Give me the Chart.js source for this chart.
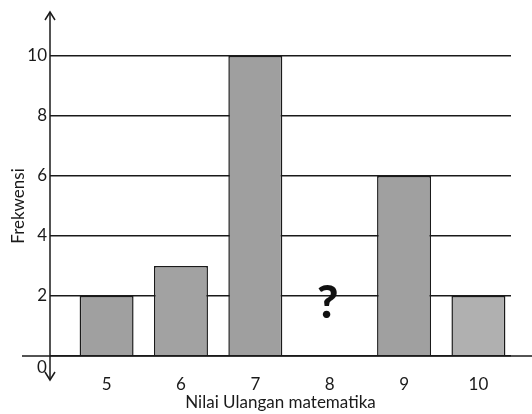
<!DOCTYPE html>
<html>
<head>
<meta charset="utf-8">
<script src="https://cdn.jsdelivr.net/npm/chart.js@4/dist/chart.umd.min.js"></script>
<style>
  html, body { margin: 0; padding: 0; background: #fff; }
  #wrap { width: 532px; height: 414px; }
</style>
</head>
<body>
<div id="wrap"><canvas id="nilaiChart" width="532" height="414"></canvas></div>
<script>
// Data (value for 8 is unknown, shown as "?")
const nilai = [5, 6, 7, 8, 9, 10];
const frekwensi = [2, 3, 10, null, 6, 2];
const barColors = ['#a0a0a0', '#a2a2a2', '#9f9f9f', '#a0a0a0', '#a0a0a0', '#b0b0b0'];
const unknownNilai = 8;

const FONT = 'Lato, "Open Sans", sans-serif';

// Axis lines with arrows, the long baseline, the "0" label and the "?"
const decorPlugin = {
  id: 'decor',
  afterDraw(chart) {
    const { ctx, scales: { x, y } } = chart;
    const ax = chart.chartArea.left;
    const y0 = y.getPixelForValue(0);
    ctx.save();
    ctx.strokeStyle = '#1a1a1a';
    ctx.lineWidth = 1.5;
    // vertical axis
    ctx.beginPath();
    ctx.moveTo(ax, 12);
    ctx.lineTo(ax, 380);
    ctx.stroke();
    // arrow heads
    ctx.beginPath();
    ctx.moveTo(ax - 5, 20); ctx.lineTo(ax, 12); ctx.lineTo(ax + 5, 20);
    ctx.moveTo(ax - 5, 372); ctx.lineTo(ax, 380); ctx.lineTo(ax + 5, 372);
    ctx.stroke();
    // baseline
    ctx.beginPath();
    ctx.moveTo(22, y0);
    ctx.lineTo(532, y0);
    ctx.stroke();
    // zero label
    ctx.fillStyle = '#1a1a1a';
    ctx.font = '17px ' + FONT;
    ctx.textAlign = 'center';
    ctx.textBaseline = 'middle';
    ctx.fillText('0', 42, y0 + 12);
    // question mark for the unknown value
    ctx.fillStyle = '#111';
    ctx.font = '900 46px ' + FONT;
    ctx.fillText('?', x.getPixelForValue(unknownNilai) - 2, y.getPixelForValue(1.75));
    ctx.restore();
  }
};

const ctx = document.getElementById('nilaiChart').getContext('2d');
new Chart(ctx, {
  type: 'bar',
  data: {
    datasets: [{
      label: 'Frekwensi',
      data: nilai.map((v, i) => ({ x: v, y: frekwensi[i] })),
      backgroundColor: barColors,
      borderColor: '#1a1a1a',
      borderWidth: 1.5,
      barPercentage: 0.726,
      categoryPercentage: 1
    }]
  },
  options: {
    responsive: false,
    animation: false,
    layout: { padding: { top: 56, right: 21, left: 0, bottom: 0 } },
    plugins: {
      legend: { display: false },
      tooltip: { enabled: false }
    },
    scales: {
      x: {
        type: 'linear',
        offset: false,
        min: 4.239,
        max: 10.438,
        grid: { display: false },
        border: { display: false },
        afterBuildTicks: (scale) => { scale.ticks = nilai.map(v => ({ value: v })); },
        afterFit: (scale) => { scale.height = 58; },
        ticks: {
          color: '#1a1a1a',
          padding: 10,
          maxRotation: 0,
          autoSkip: false,
          font: { family: FONT, size: 17 }
        },
        title: {
          display: true,
          text: 'Nilai Ulangan matematika',
          color: '#1a1a1a',
          padding: { top: 0, bottom: 1 },
          font: { family: FONT, size: 17 }
        }
      },
      y: {
        min: 0,
        max: 10,
        z: 1,
        border: { display: false },
        grid: {
          color: '#1a1a1a',
          lineWidth: 1.5,
          drawTicks: false
        },
        afterFit: (scale) => { scale.width = 50; },
        ticks: {
          stepSize: 2,
          padding: 3,
          color: '#1a1a1a',
          font: { family: FONT, size: 17 },
          callback: (v) => (v === 0 ? '' : v)
        },
        title: {
          display: true,
          text: 'Frekwensi',
          color: '#1a1a1a',
          padding: { top: 8, bottom: 0 },
          font: { family: FONT, size: 17 }
        }
      }
    }
  },
  plugins: [decorPlugin]
});
</script>
</body>
</html>
